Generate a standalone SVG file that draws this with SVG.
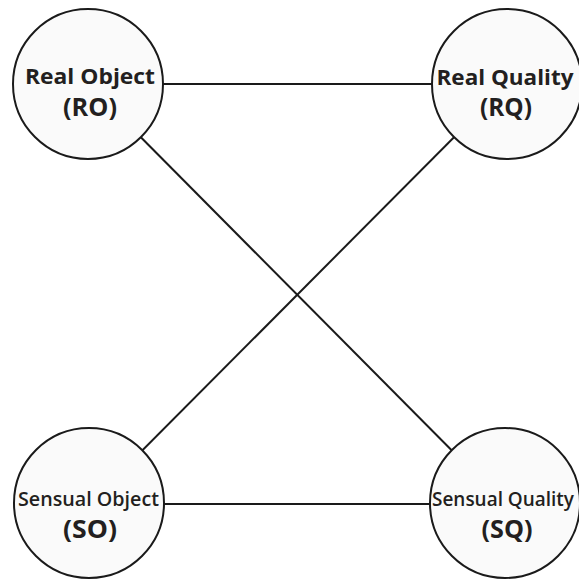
<svg xmlns="http://www.w3.org/2000/svg" width="579" height="579" viewBox="0 0 579 579">
  <style>
    .node circle { fill: #fafafa; stroke: #1a1a1a; stroke-width: 2; }
    .edge { stroke: #1a1a1a; stroke-width: 2; fill: none; }
    text { font-family: "Open Sans", "Liberation Sans", sans-serif; fill: #231f20; text-anchor: middle; }
    .t1 { font-size: 22px; font-weight: 700; }
    .s1 { font-size: 20.5px; font-weight: 600; }
    .s1q { font-size: 19px; font-weight: 600; }
    .t2 { font-size: 25px; font-weight: 700; }
  </style>
  <rect width="579" height="579" fill="#ffffff"/>
  <g id="connectors">
    <line class="edge" x1="88" y1="84" x2="507" y2="84"/>
    <line class="edge" x1="89" y1="504" x2="505" y2="504"/>
    <line class="edge" x1="88" y1="84" x2="505" y2="504"/>
    <line class="edge" x1="507" y1="84" x2="89" y2="504"/>
  </g>
  <g id="RO" class="node">
    <circle cx="88" cy="84" r="75"/>
    <text class="t1" x="90" y="84" textLength="130" lengthAdjust="spacingAndGlyphs">Real Object</text>
    <text class="t2" x="90" y="116" textLength="54" lengthAdjust="spacingAndGlyphs">(RO)</text>
  </g>
  <g id="RQ" class="node">
    <circle cx="507" cy="84" r="75"/>
    <text class="t1" x="505" y="85" textLength="137" lengthAdjust="spacingAndGlyphs">Real Quality</text>
    <text class="t2" x="506" y="116" textLength="52" lengthAdjust="spacingAndGlyphs">(RQ)</text>
  </g>
  <g id="SO" class="node">
    <circle cx="89" cy="503" r="75"/>
    <text class="s1" x="88.5" y="506" textLength="141" lengthAdjust="spacingAndGlyphs">Sensual Object</text>
    <text class="t2" x="90" y="538" textLength="54" lengthAdjust="spacingAndGlyphs">(SO)</text>
  </g>
  <g id="SQ" class="node">
    <circle cx="505" cy="503" r="75"/>
    <text class="s1q" x="503" y="506" textLength="142" lengthAdjust="spacingAndGlyphs">Sensual Quality</text>
    <text class="t2" x="507" y="538" textLength="51" lengthAdjust="spacingAndGlyphs">(SQ)</text>
  </g>
</svg>
